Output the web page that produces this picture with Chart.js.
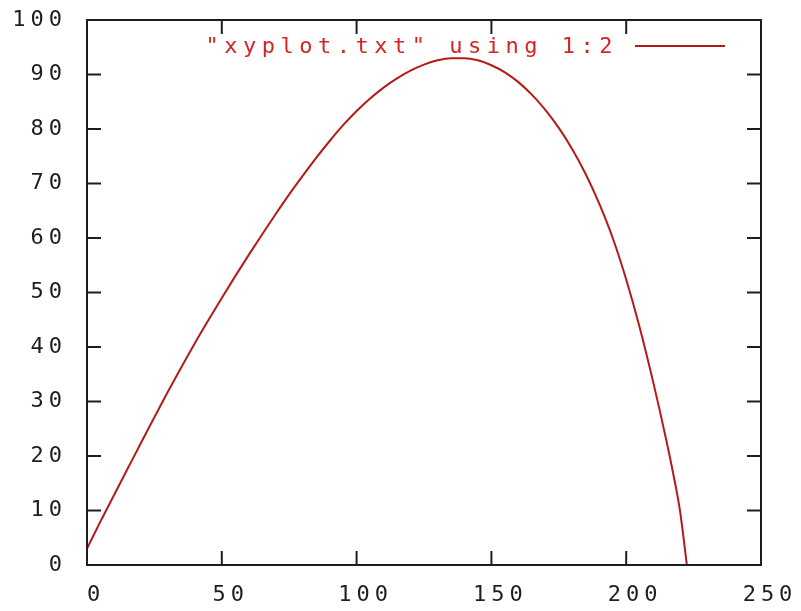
<!DOCTYPE html>
<html>
<head>
<meta charset="utf-8">
<script src="https://cdn.jsdelivr.net/npm/chart.js@4/dist/chart.umd.min.js"></script>
<style>
  body { margin: 0; background: #fff; }
  canvas { display: block; }
</style>
</head>
<body>
<canvas id="myChart" width="801" height="611"></canvas>
<script>
// values
const xVals = [0, 5, 10, 15, 20, 25, 30, 35, 40, 45, 50, 55, 60, 65, 70, 75, 80, 85, 90, 95,
  100, 105, 110, 115, 120, 125, 130, 135, 140, 145, 150, 155, 160, 165, 170, 175, 180, 185,
  190, 195, 200, 205, 210, 215, 217.5, 220, 222.5]
const yVals = [3, 8, 12.8, 17.6, 22.4, 27.1, 31.8, 36.3, 40.7, 44.9, 49.0, 53.0, 56.9, 60.7, 64.4, 68.0, 71.4, 74.7, 77.8, 80.7,
  83.3, 85.6, 87.6, 89.3, 90.7, 91.8, 92.6, 93.0, 93.0, 92.6, 91.7, 90.4, 88.6, 86.3, 83.5, 80.2, 76.3, 71.7,
  66.3, 60.0, 52.4, 43.6, 33.6, 22.6, 16.6, 9.8, 0]
const seriesLabel = '"xyplot.txt" using 1:2'
const xTicks = { min: 0, max: 250, step: 50 }
const yTicks = { min: 0, max: 100, step: 10 }

const lineColor = '#b41a1a'
const textColor = '#d42424'
const axisColor = '#1e1e1e'
const monoFont = '"DejaVu Sans Mono", monospace'
const spacing = '5px'

let points = []
for (let i = 0; i < xVals.length; i++) {
  points.push({ x: xVals[i], y: yVals[i] })
}

// gnuplot look: box round the plot, ticks pointing inward on every side
const gnuBox = {
  id: 'gnuBox',
  beforeLayout(chart) { chart.ctx.letterSpacing = spacing },
  beforeDraw(chart) { chart.ctx.letterSpacing = spacing },
  afterDatasetsDraw(chart) {
    const ctx = chart.ctx
    const a = chart.chartArea
    const xs = chart.scales.x
    const ys = chart.scales.y
    const tl = 14
    ctx.save()
    ctx.strokeStyle = axisColor
    ctx.lineWidth = 2
    ctx.strokeRect(a.left, a.top, a.right - a.left, a.bottom - a.top)
    ctx.beginPath()
    xs.ticks.forEach(function(t) {
      const px = xs.getPixelForValue(t.value)
      ctx.moveTo(px, a.bottom); ctx.lineTo(px, a.bottom - tl)
      ctx.moveTo(px, a.top); ctx.lineTo(px, a.top + tl)
    })
    ys.ticks.forEach(function(t) {
      const py = ys.getPixelForValue(t.value)
      ctx.moveTo(a.left, py); ctx.lineTo(a.left + tl, py)
      ctx.moveTo(a.right, py); ctx.lineTo(a.right - tl, py)
    })
    ctx.stroke()

    // key, top right inside the box
    const ds = chart.data.datasets[0]
    const ky = a.top + 26
    ctx.beginPath()
    ctx.strokeStyle = ds.borderColor
    ctx.lineWidth = 2
    ctx.moveTo(a.right - 126, ky)
    ctx.lineTo(a.right - 36, ky)
    ctx.stroke()
    ctx.fillStyle = textColor
    ctx.font = '22px ' + monoFont
    ctx.letterSpacing = '5.5px'
    ctx.textAlign = 'right'
    ctx.textBaseline = 'middle'
    ctx.fillText(ds.label, a.right - 143, ky + 1)
    ctx.restore()
  }
}

const chart = new Chart(document.getElementById('myChart'), {
  type: 'line',
  data: {
    datasets: [{
      label: seriesLabel,
      data: points,
      borderColor: lineColor,
      borderWidth: 2,
      pointRadius: 0,
      cubicInterpolationMode: 'monotone',
      fill: false
    }]
  },
  options: {
    responsive: false,
    animation: false,
    layout: { padding: { left: 0, right: 40, top: 20, bottom: 0 } },
    plugins: { legend: { display: false }, tooltip: { enabled: false } },
    scales: {
      x: {
        type: 'linear',
        min: xTicks.min, max: xTicks.max,
        grid: { display: false },
        border: { display: false },
        ticks: {
          stepSize: xTicks.step,
          color: axisColor,
          font: { family: monoFont, size: 22 },
          padding: 9,
          labelOffset: 9,
          maxRotation: 0
        },
        afterFit(scale) {
          scale.height = 46
          scale.paddingLeft = 0
          scale.paddingRight = 0
        }
      },
      y: {
        min: yTicks.min, max: yTicks.max,
        grid: { display: false },
        border: { display: false },
        ticks: {
          stepSize: yTicks.step,
          color: axisColor,
          font: { family: monoFont, size: 22 },
          padding: 12
        },
        afterFit(scale) {
          scale.width = 87
          scale.paddingTop = 0
          scale.paddingBottom = 0
        }
      }
    }
  },
  plugins: [gnuBox]
})
</script>
</body>
</html>
